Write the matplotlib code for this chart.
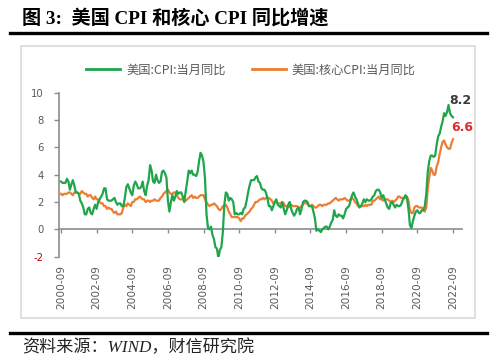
import matplotlib
matplotlib.use("Agg")
import matplotlib.pyplot as plt
from matplotlib.lines import Line2D
from matplotlib.patches import Rectangle
import numpy as np

plt.rcParams['font.family'] = ['DejaVu Sans', 'Noto Sans CJK SC']

# Monthly data, 2000-09 .. 2022-09
cpi = [
    3.5, 3.4, 3.4, 3.4,                                            # 2000 Sep-Dec
    3.7, 3.5, 2.9, 3.3, 3.6, 3.2, 2.7, 2.7, 2.6, 2.1, 1.9, 1.6,    # 2001
    1.1, 1.1, 1.5, 1.6, 1.2, 1.1, 1.5, 1.8, 1.5, 2.0, 2.2, 2.4,    # 2002
    2.6, 3.0, 3.0, 2.2, 2.1, 2.1, 2.1, 2.2, 2.3, 2.0, 1.8, 1.9,    # 2003
    1.9, 1.7, 1.7, 2.3, 3.1, 3.3, 3.0, 2.7, 2.5, 3.2, 3.5, 3.3,    # 2004
    3.0, 3.0, 3.1, 3.5, 2.8, 2.5, 3.2, 3.6, 4.7, 4.3, 3.5, 3.4,    # 2005
    4.0, 3.6, 3.4, 3.5, 4.2, 4.3, 4.1, 3.8, 2.1, 1.3, 2.0, 2.5,    # 2006
    2.1, 2.4, 2.8, 2.6, 2.7, 2.7, 2.4, 2.0, 2.8, 3.5, 4.3, 4.1,    # 2007
    4.3, 4.0, 4.0, 3.9, 4.2, 5.0, 5.6, 5.4, 4.9, 3.7, 1.1, 0.1,    # 2008
    0.0, 0.2, -0.4, -0.7, -1.3, -1.4, -2.1, -1.5, -1.3, -0.2, 1.8, 2.7,  # 2009
    2.6, 2.1, 2.3, 2.2, 2.0, 1.1, 1.2, 1.1, 1.1, 1.2, 1.1, 1.5,    # 2010
    1.6, 2.1, 2.7, 3.2, 3.6, 3.6, 3.6, 3.8, 3.9, 3.5, 3.4, 3.0,    # 2011
    2.9, 2.9, 2.7, 2.3, 1.7, 1.7, 1.4, 1.7, 2.0, 2.2, 1.8, 1.7,    # 2012
    1.6, 2.0, 1.5, 1.1, 1.4, 1.8, 2.0, 1.5, 1.2, 1.0, 1.2, 1.5,    # 2013
    1.6, 1.1, 1.5, 2.0, 2.1, 2.1, 2.0, 1.7, 1.7, 1.7, 1.3, 0.8,    # 2014
    -0.1, 0.0, -0.1, -0.2, 0.0, 0.1, 0.2, 0.2, 0.0, 0.2, 0.5, 0.7, # 2015
    1.4, 1.0, 0.9, 1.1, 1.0, 1.0, 0.8, 1.1, 1.5, 1.6, 1.7, 2.1,    # 2016
    2.5, 2.7, 2.4, 2.2, 1.9, 1.6, 1.7, 1.9, 2.2, 2.0, 2.2, 2.1,    # 2017
    2.1, 2.2, 2.4, 2.5, 2.8, 2.9, 2.9, 2.7, 2.3, 2.5, 2.2, 1.9,    # 2018
    1.6, 1.5, 1.9, 2.0, 1.8, 1.6, 1.8, 1.7, 1.7, 1.8, 2.1, 2.3,    # 2019
    2.5, 2.3, 1.5, 0.3, 0.1, 0.6, 1.0, 1.3, 1.4, 1.2, 1.2, 1.4,    # 2020
    1.4, 1.7, 2.6, 4.2, 5.0, 5.4, 5.4, 5.3, 5.4, 6.2, 6.8, 7.0,    # 2021
    7.5, 7.9, 8.5, 8.3, 8.6, 9.1, 8.5, 8.3, 8.2,                   # 2022 Jan-Sep
]
core_cpi = [
    2.6, 2.5, 2.6, 2.6,
    2.6, 2.7, 2.7, 2.6, 2.5, 2.7, 2.7, 2.7, 2.6, 2.6, 2.8, 2.7,
    2.6, 2.6, 2.4, 2.5, 2.5, 2.3, 2.2, 2.4, 2.2, 2.2, 2.0, 1.9,
    1.9, 1.7, 1.7, 1.5, 1.6, 1.5, 1.5, 1.3, 1.2, 1.3, 1.1, 1.1,
    1.1, 1.2, 1.6, 1.8, 1.7, 1.9, 1.8, 1.7, 2.0, 2.0, 2.2, 2.2,
    2.3, 2.4, 2.3, 2.2, 2.2, 2.0, 2.1, 2.1, 2.0, 2.1, 2.1, 2.2,
    2.1, 2.1, 2.1, 2.3, 2.4, 2.6, 2.7, 2.8, 2.9, 2.7, 2.6, 2.6,
    2.7, 2.7, 2.5, 2.3, 2.2, 2.2, 2.2, 2.1, 2.1, 2.2, 2.3, 2.4,
    2.5, 2.3, 2.4, 2.3, 2.3, 2.4, 2.5, 2.5, 2.5, 2.2, 2.0, 1.8,
    1.7, 1.8, 1.8, 1.9, 1.8, 1.7, 1.5, 1.4, 1.5, 1.7, 1.7, 1.8,
    1.6, 1.3, 1.1, 0.9, 0.9, 0.9, 0.9, 0.9, 0.8, 0.6, 0.8, 0.8,
    1.0, 1.1, 1.2, 1.3, 1.5, 1.6, 1.8, 2.0, 2.0, 2.1, 2.2, 2.2,
    2.3, 2.2, 2.3, 2.3, 2.3, 2.2, 2.1, 1.9, 2.0, 2.0, 1.9, 1.9,
    1.9, 2.0, 1.9, 1.7, 1.7, 1.6, 1.7, 1.8, 1.7, 1.7, 1.7, 1.7,
    1.6, 1.6, 1.7, 1.8, 2.0, 1.9, 1.9, 1.7, 1.7, 1.8, 1.7, 1.6,
    1.6, 1.7, 1.8, 1.8, 1.7, 1.8, 1.8, 1.8, 1.9, 1.9, 2.0, 2.1,
    2.2, 2.3, 2.2, 2.1, 2.2, 2.2, 2.2, 2.3, 2.2, 2.1, 2.1, 2.2,
    2.3, 2.2, 2.0, 1.9, 1.7, 1.7, 1.7, 1.7, 1.7, 1.8, 1.7, 1.8,
    1.8, 1.8, 2.1, 2.1, 2.2, 2.3, 2.4, 2.2, 2.2, 2.1, 2.2, 2.2,
    2.2, 2.1, 2.0, 2.1, 2.0, 2.1, 2.2, 2.4, 2.4, 2.3, 2.3, 2.3,
    2.3, 2.4, 2.1, 1.4, 1.2, 1.2, 1.6, 1.7, 1.7, 1.6, 1.6, 1.6,
    1.4, 1.3, 1.6, 3.0, 3.8, 4.5, 4.3, 4.0, 4.0, 4.6, 4.9, 5.5,
    6.0, 6.4, 6.5, 6.2, 6.0, 5.9, 5.9, 6.3, 6.6,
]
tick_labels = ['2000-09', '2002-09', '2004-09', '2006-09', '2008-09', '2010-09',
               '2012-09', '2014-09', '2016-09', '2018-09', '2020-09', '2022-09']
y_ticks = [-2, 0, 2, 4, 6, 8, 10]
series_names = ['美国:CPI:当月同比', '美国:核心CPI:当月同比']

W, H = 500, 364
fig = plt.figure(figsize=(W / 100, H / 100), dpi=100)
fig.patch.set_facecolor('white')

# Frame box and rules
fig.add_artist(Rectangle((21 / W, 1 - 318 / H), (475 - 21) / W, (318 - 46) / H,
                         transform=fig.transFigure, fill=False,
                         edgecolor='#d9d9d9', linewidth=1.2))
for yy in (33, 333):
    fig.add_artist(Line2D([10 / W, 487 / W], [1 - yy / H, 1 - yy / H],
                          transform=fig.transFigure, color='black', linewidth=2.4))

fig.text(22 / W, 1 - 18 / H, '图 3:  美国 CPI 和核心 CPI 同比增速',
         family=['Liberation Serif', 'Noto Sans CJK SC'], fontweight='bold',
         fontsize=13.8, va='center', ha='left', color='black')
fig.text(22 / W, 1 - 348 / H, '资料来源：WIND，财信研究院',
         family=['Liberation Serif', 'Noto Sans CJK SC'], fontstyle='italic',
         fontsize=12.3, va='center', ha='left', color='#222222')

# Axes placement
n = len(cpi)
x = np.arange(n)
px_per_m = (453 - 61) / (n - 1)
ax_left_px, ax_right_px = 59.3, 462
ax_top_px, ax_bot_px = 92.7, 256.7
ax = fig.add_axes([ax_left_px / W, 1 - ax_bot_px / H,
                   (ax_right_px - ax_left_px) / W, (ax_bot_px - ax_top_px) / H])
ax.set_xlim(-(61 - ax_left_px) / px_per_m, (n - 1) + (ax_right_px - 453) / px_per_m)
ax.set_ylim(-2, 10)
ax.set_facecolor('none')

green = '#1fa54b'
orange = '#ed7d31'
ax.plot(x, core_cpi, color=orange, linewidth=1.6, label=series_names[1], zorder=3)
ax.plot(x, cpi, color=green, linewidth=1.6, label=series_names[0], zorder=4)

axis_col = '#8c8c8c'
for s in ('top', 'right'):
    ax.spines[s].set_visible(False)
ax.spines['left'].set_color(axis_col)
ax.spines['left'].set_linewidth(1.2)
ax.spines['bottom'].set_position(('data', 0))
ax.spines['bottom'].set_color(axis_col)
ax.spines['bottom'].set_linewidth(1.2)

ax.set_yticks(y_ticks)
ax.set_yticklabels([str(v) for v in y_ticks])
for lbl, v in zip(ax.get_yticklabels(), y_ticks):
    lbl.set_color('#c00000' if v < 0 else '#595959')
ax.tick_params(axis='y', direction='out', length=3.5, width=1, color=axis_col,
               labelsize=7.2, pad=8)

tick_pos = x[::24]
ax.set_xticks(tick_pos)
ax.tick_params(axis='x', direction='out', length=3, width=1, color=axis_col,
               labelbottom=False)

sec = ax.secondary_xaxis(0.0)
sec.set_xticks(tick_pos)
sec.set_xticklabels(tick_labels)
sec.spines['bottom'].set_visible(False)
sec.tick_params(axis='x', length=0, labelsize=7.6, labelcolor='#595959',
                labelrotation=90, pad=6)

# End-value annotations
ax.annotate(f'{cpi[-1]:.1f}', xy=(x[-1], cpi[-1]), xytext=(-4, 17),
            textcoords='offset pixels', fontsize=9, fontweight='bold',
            color='#3a3a3a', ha='left', va='center')
ax.annotate(f'{core_cpi[-1]:.1f}', xy=(x[-1], core_cpi[-1]), xytext=(-2, 12),
            textcoords='offset pixels', fontsize=9, fontweight='bold',
            color='#e0282e', ha='left', va='center')

# Legend
handles = [Line2D([], [], color=green, linewidth=2),
           Line2D([], [], color=orange, linewidth=2)]
fig.legend(handles, series_names, loc='center', bbox_to_anchor=(251 / W, 1 - 70 / H),
           ncol=2, frameon=False, handlelength=2.8, columnspacing=2.1,
           handletextpad=0.5, prop={'family': ['Noto Sans CJK SC'], 'size': 8.8},
           labelcolor='#595959', borderaxespad=0, borderpad=0)

fig.savefig('out.png', dpi=100, facecolor='white')
